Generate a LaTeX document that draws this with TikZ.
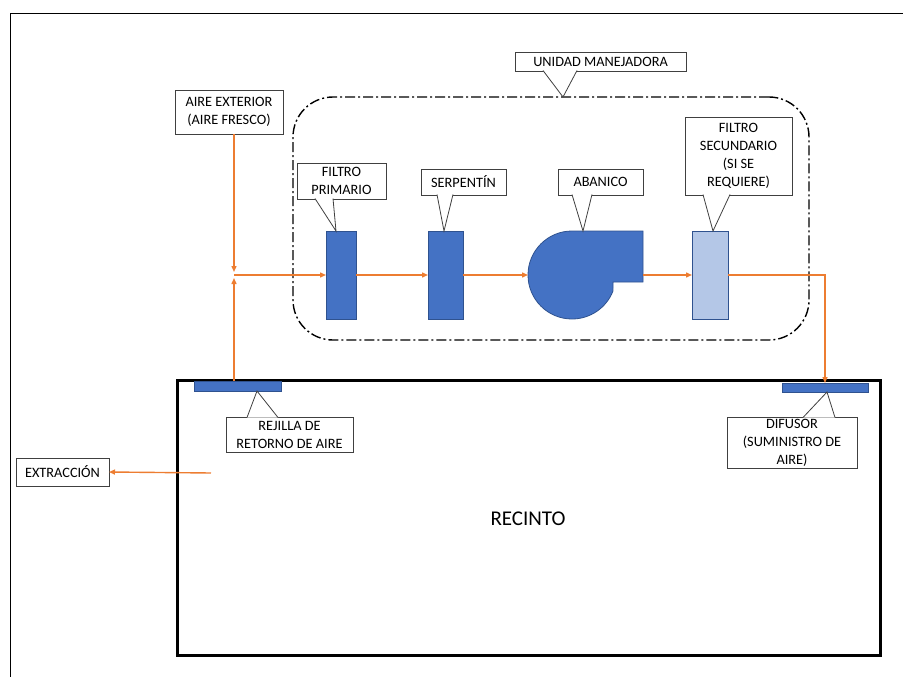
\documentclass[tikz,border=0pt]{standalone}
\usepackage{fontspec}
\setmainfont{Carlito}
\usetikzlibrary{arrows.meta,calc}
\definecolor{azul}{HTML}{4472C4}
\definecolor{azulosc}{HTML}{2F528F}
\definecolor{azulcl}{HTML}{B4C7E7}
\definecolor{naranja}{HTML}{ED7D31}
\tikzset{
  etiqueta/.style={draw=black!75, fill=white, line width=0.8pt, align=center, inner sep=0pt, outer sep=0pt, font=\fontsize{14.3}{18}\selectfont},
  punta/.style={draw=black!75, fill=white, line width=0.8pt},
  equipo/.style={draw=azulosc, fill=azul, line width=0.8pt, inner sep=0pt, outer sep=0pt},
  flujo/.style={draw=naranja, line width=1.4pt, -{Triangle[length=6pt,width=5pt]}},
}
\begin{document}
\begin{tikzpicture}[x=1pt,y=-1pt]
\useasboundingbox (0,0) rectangle (903,677);
\draw[line width=1pt] (903,14) -- (10,14) -- (10,677); % marco
\node[draw, line width=1.4pt, dash pattern=on 10pt off 3pt on 2pt off 3pt, rounded corners=40pt, inner sep=0pt, outer sep=0pt, minimum width=516pt, minimum height=243pt] (ahu) at (551,218.5) {}; % unidad manejadora
% equipos
\node[equipo, minimum width=30pt, minimum height=88pt] (fp) at (341,275) {}; % filtro primario
\node[equipo, minimum width=35pt, minimum height=88pt] (sp) at (445.5,275) {}; % serpentin
\node[equipo, fill=azulcl, minimum width=36pt, minimum height=88pt] (fs) at (710,275) {}; % filtro secundario
\coordinate (fan) at (572,275);
\filldraw[draw=azulosc, fill=azul, line width=0.8pt] ($(fan)+(0,-44)$) arc[start angle=270, end angle=21.3, radius=44] -- (613,282) -- (643,282) -- (643,231) -- cycle; % abanico
\coordinate (fanin) at (528,275);
\coordinate (fanout) at (643,275);
% recinto
\draw[line width=3pt] (177,380) rectangle (880,655);
\node[equipo, minimum width=87pt, minimum height=10pt] (rej) at (237.5,386) {}; % rejilla
\node[equipo, minimum width=86pt, minimum height=9pt] (dif) at (825,387.5) {}; % difusor
\node[font=\fontsize{21}{24}\selectfont] (recinto) at (528,519) {RECINTO};
% etiquetas
\node[etiqueta, minimum width=108pt, minimum height=44pt] (aire) at (229,112) {AIRE EXTERIOR\\(AIRE FRESCO)};
\node[etiqueta, minimum width=93pt, minimum height=28pt] (extr) at (62.5,472) {EXTRACCIÓN};
\node[etiqueta, minimum width=171pt, minimum height=19pt] (unidad) at (600.5,61.5) {UNIDAD MANEJADORA};
\filldraw[punta] ([xshift=28pt,yshift=0.5pt]unidad.south west) -- ([xshift=12pt]ahu.north) -- ([xshift=62pt,yshift=0.5pt]unidad.south west);
\node[etiqueta, minimum width=89pt, minimum height=36pt] (lfp) at (341.5,181) {FILTRO\\PRIMARIO};
\filldraw[punta] ([xshift=18pt,yshift=0.5pt]lfp.south west) -- ([xshift=-5pt]fp.north) -- ([xshift=36pt,yshift=0.5pt]lfp.south west);
\node[etiqueta, minimum width=85pt, minimum height=26pt] (lsp) at (463.5,182) {SERPENTÍN};
\filldraw[punta] ([xshift=16pt,yshift=0.5pt]lsp.south west) -- ([xshift=-1.5pt]sp.north) -- ([xshift=32pt,yshift=0.5pt]lsp.south west);
\node[etiqueta, minimum width=85pt, minimum height=26pt] (lfan) at (600.5,182) {ABANICO};
\filldraw[punta] ([xshift=14pt,yshift=0.5pt]lfan.south west) -- ($(fan)+(11,-44)$) -- ([xshift=34pt,yshift=0.5pt]lfan.south west);
\node[etiqueta, minimum width=107pt, minimum height=78pt] (lfs) at (738.5,156) {FILTRO\\SECUNDARIO\\(SI SE\\REQUIERE)};
\filldraw[punta] ([xshift=18pt,yshift=0.5pt]lfs.south west) -- ([xshift=3pt]fs.north) -- ([xshift=45pt,yshift=0.5pt]lfs.south west);
\node[etiqueta, minimum width=127pt, minimum height=35pt] (lrej) at (289.5,434.5) {REJILLA DE\\RETORNO DE AIRE};
\filldraw[punta] ([xshift=21pt,yshift=-0.5pt]lrej.north west) -- ([xshift=19.5pt]rej.south) -- ([xshift=52pt,yshift=-0.5pt]lrej.north west);
\node[etiqueta, minimum width=130pt, minimum height=51pt] (ldif) at (792,442.5) {DIFUSOR\\(SUMINISTRO DE\\AIRE)};
\filldraw[punta] ([xshift=76pt,yshift=-0.5pt]ldif.north west) -- ([xshift=2pt]dif.south) -- ([xshift=108pt,yshift=-0.5pt]ldif.north west);
% flujos de aire
\coordinate (jn) at (234,275);
\draw[flujo] (aire.south -| jn) -- ([yshift=3pt]jn);
\draw[flujo] (rej.north -| jn) -- ([yshift=-3pt]jn);
\draw[flujo] (jn) -- (fp.west);
\draw[flujo] (fp.east) -- (sp.west);
\draw[flujo] (sp.east) -- (fanin);
\draw[flujo] (fanout) -- (fs.west);
\draw[flujo] (fs.east) -| (dif.north);
\coordinate (salida) at (211,473);
\draw[flujo] (salida) -- (extr.east);
\end{tikzpicture}
\end{document}
